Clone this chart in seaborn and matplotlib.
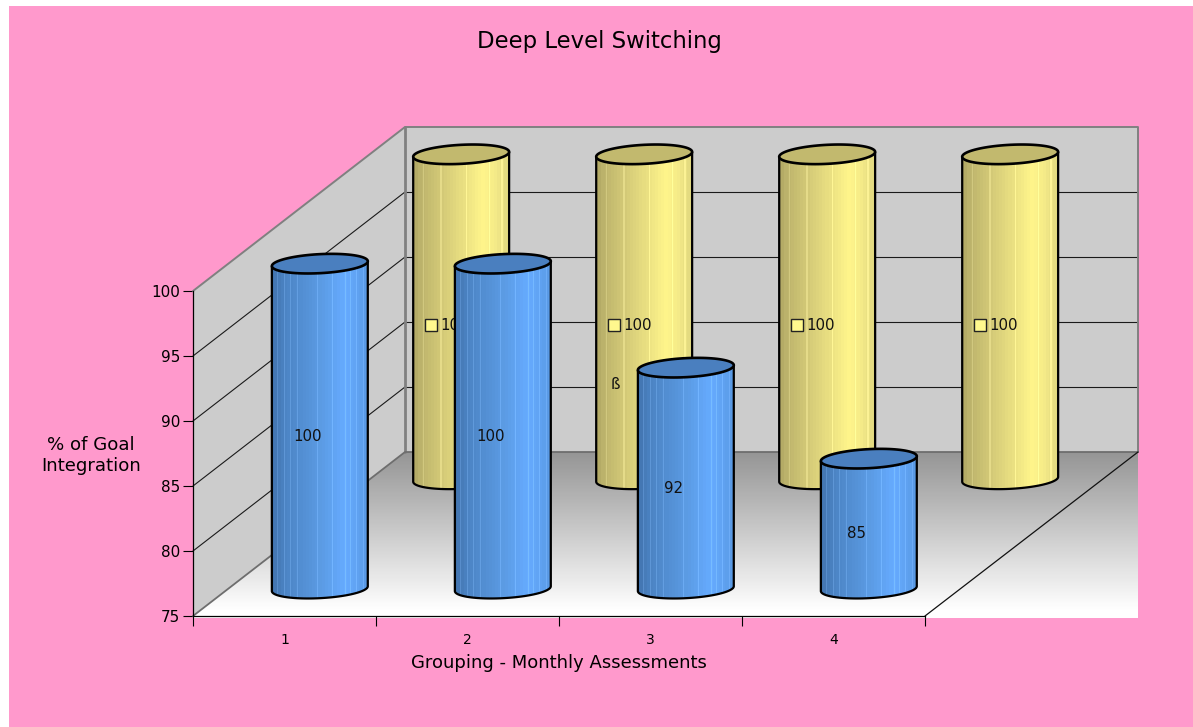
import numpy as np
import pandas as pd
import seaborn as sns
import matplotlib
matplotlib.use("Agg")
import matplotlib.pyplot as plt
from matplotlib.patches import Polygon, PathPatch, Rectangle
from matplotlib.path import Path
from matplotlib.transforms import Affine2D, IdentityTransform

# Chart values
months = ["1", "2", "3", "4"]
assessed = [100, 100, 92, 85]
goal = [100, 100, 100, 100]
y_ticks = [75, 80, 85, 90, 95, 100]

W, H = 1193, 727
PLANE_LEFT, PLANE_RIGHT, PLANE_BOTTOM, PLANE_TOP = 193, 925, 616, 291
DEPTH_X, DEPTH_Y = 212, 164
BAR_WIDTH = 0.525
CAP_B = 9.5
TILT = np.deg2rad(3)

BLUE_STOPS = ([0, .15, .5, .75, .9, 1],
              ["#3F6FA8", "#4C84C4", "#5B9BE3", "#66ABFF", "#5EA0EE", "#5490D6"])
BLUE_LIGHT = [.08, .14, .2, .28, .47, .62, .74, .8, .86, .92]
YELLOW_STOPS = ([0, .1, .4, .72, .85, 1],
                ["#A69D5E", "#BDB46C", "#DDD37C", "#FFF58B", "#F4EA88", "#DAD27C"])
YELLOW_LIGHT = [.12, .3, .55, .78, .9]

sns.set_theme(style="white")
plt.rcParams["font.family"] = "DejaVu Sans"
plt.rcParams["text.color"] = "black"
plt.rcParams["axes.labelcolor"] = "black"
plt.rcParams["xtick.color"] = "black"
plt.rcParams["ytick.color"] = "black"

fig = plt.figure(figsize=(W / 100, H / 100), dpi=100, facecolor="white")
fig.patches.append(Rectangle((9, 0), W - 9, H - 6, transform=IdentityTransform(),
                             facecolor="#FF99CC", edgecolor="none", figure=fig, zorder=-1))
ax = fig.add_axes([PLANE_LEFT / W, (H - PLANE_BOTTOM) / H,
                   (PLANE_RIGHT - PLANE_LEFT) / W, (PLANE_BOTTOM - PLANE_TOP) / H])
ax.patch.set_visible(False)

# Screen coordinates with y running downward, used for the box and cylinder shapes
px = Affine2D().scale(1, -1).translate(0, H)


def px_image(rgb, x0, x1, y0, y1, zorder, clip=None):
    im = ax.imshow(rgb, extent=(x0, x1, H - y1, H - y0), origin="upper", aspect="auto",
                   interpolation="nearest", transform=IdentityTransform(), zorder=zorder)
    im.set_clip_box(fig.bbox)
    if clip is not None:
        im.set_clip_path(clip)
    return im


def bands(stops, light, n=32):
    pos, cols = stops
    rgb = np.array([matplotlib.colors.to_rgb(c) for c in cols])
    centres = (np.arange(n * 3) + .5) / (n * 3)
    stepped = np.floor(centres * n + .5) / n
    row = np.stack([np.interp(stepped, pos, rgb[:, i]) for i in range(3)], axis=1)
    for f in light:
        row[int(f * n * 3)] = np.minimum(row[int(f * n * 3)] + .07, 1)
    return row[np.newaxis, :, :]


def ellipse_arc(cx, cy, a, t0, t1, n=60):
    t = np.linspace(t0, t1, n)
    x = cx + a * np.cos(t) * np.cos(TILT) + CAP_B * np.sin(t) * np.sin(TILT)
    y = cy - a * np.cos(t) * np.sin(TILT) + CAP_B * np.sin(t) * np.cos(TILT)
    return np.column_stack([x, y])


def draw_cylinder(bar, depth, stops, light, cap_color, zorder):
    dx, dy = DEPTH_X * depth, -DEPTH_Y * depth
    value = bar.get_height()
    bar.set_y(y_ticks[0])
    bar.set_height(value - y_ticks[0])
    bar.set_transform(ax.transData + Affine2D().translate(dx, -dy))
    bar.set_clip_on(False)
    bar.set_linewidth(0)
    bar.set_zorder(zorder)

    left, low = ax.transData.transform((bar.get_x(), y_ticks[0]))
    right, high = ax.transData.transform((bar.get_x() + bar.get_width(), value))
    cx = (left + right) / 2 + dx
    a = (right - left) / 2
    base_y = H - low + dy
    top_y = H - high + dy

    base = ellipse_arc(cx, base_y, a, np.pi, 0)
    top = ellipse_arc(cx, top_y, a, 0, np.pi)
    outline = np.vstack([top[-1:], base, top])
    body = PathPatch(Path(outline), transform=px, facecolor="none", edgecolor="none")
    ax.add_patch(body)
    body.set_clip_on(False)
    px_image(bands(stops, light), cx - a - 2, cx + a + 2, top_y - CAP_B - 4, base_y + CAP_B + 4,
             zorder + .1, clip=body)

    rim = np.vstack([top[-1:], base, top[:1]])
    ax.add_patch(PathPatch(Path(rim), transform=px, facecolor="none", edgecolor="black",
                           linewidth=1.6, zorder=zorder + .2, clip_on=False,
                           joinstyle="round"))
    cap = np.vstack([ellipse_arc(cx, top_y, a, 0, 2 * np.pi, 90)])
    ax.add_patch(Polygon(cap, closed=True, transform=px, facecolor=cap_color, edgecolor="black",
                         linewidth=1.9, zorder=zorder + .3, clip_on=False))
    return cx, (top_y + base_y) / 2


# Bars through seaborn: they set the categorical scale and carry the values
sns.barplot(data=pd.DataFrame({"month": months, "value": goal}), x="month", y="value",
            width=BAR_WIDTH, color="#DDD37C", saturation=1, ax=ax)
n_goal = len(ax.patches)
sns.barplot(data=pd.DataFrame({"month": months, "value": assessed}), x="month", y="value",
            width=BAR_WIDTH, color="#5B9BE3", saturation=1, ax=ax)
goal_bars = list(ax.patches[:n_goal])
assessed_bars = list(ax.patches[n_goal:])

ax.set_xlim(-.5, len(months) - .5)
ax.set_ylim(y_ticks[0], y_ticks[-1])
ax.set_autoscale_on(False)

# Box: floor with its grey fade, side wall, back wall and gridlines
back_l, back_r = PLANE_LEFT + DEPTH_X, PLANE_RIGHT + DEPTH_X + 1
back_b, back_t = PLANE_BOTTOM - DEPTH_Y, PLANE_TOP - DEPTH_Y
fade = np.linspace(.585, 1.0, 160)[:, np.newaxis]
fade = np.minimum(fade + np.linspace(0, .02, 160)[:, np.newaxis], 1)
px_image(np.repeat(fade[:, :, np.newaxis], 3, axis=2), PLANE_LEFT, back_r, back_b, PLANE_BOTTOM + 2, .5)

ax.add_patch(Polygon([(back_l, back_t), (back_r, back_t), (back_r, back_b), (back_l, back_b)],
                     transform=px, facecolor="#CCCCCC", edgecolor="none", zorder=1, clip_on=False))
ax.add_patch(Polygon([(PLANE_LEFT, PLANE_TOP), (back_l, back_t), (back_l, back_b), (PLANE_LEFT, PLANE_BOTTOM)],
                     transform=px, facecolor="#CCCCCC", edgecolor="none", zorder=1, clip_on=False))


def y_px(v):
    return PLANE_BOTTOM - (v - y_ticks[0]) * (PLANE_BOTTOM - PLANE_TOP) / (y_ticks[-1] - y_ticks[0])


for v in y_ticks[1:-1]:
    y = y_px(v)
    grid = dict(transform=px, color="#1A1A1A", lw=.8, zorder=1.2, clip_on=False)
    ax.plot([PLANE_LEFT, back_l], [y, y - DEPTH_Y], **grid)
    ax.plot([back_l, back_r], [y - DEPTH_Y, y - DEPTH_Y], **grid)
edge = dict(transform=px, color="#808080", zorder=1.4, clip_on=False, solid_capstyle="round")
ax.plot([PLANE_LEFT, back_l, back_r, back_r], [PLANE_TOP, back_t, back_t, back_b], lw=1.4, **edge)
ax.plot([back_l, back_l], [back_t, back_b], lw=2, **edge)
ax.plot([PLANE_LEFT, back_l, back_r], [PLANE_BOTTOM, back_b, back_b], lw=1.3,
        transform=px, color="#6E6E6E", zorder=1.4, clip_on=False)
ax.plot([PLANE_RIGHT, back_r], [PLANE_BOTTOM, back_b], transform=px, color="#111111", lw=.9,
        zorder=1.4, clip_on=False)

# Back row
label_style = dict(transform=px, fontsize=10.8, color="#111111", va="center", clip_on=False)
for i, bar in enumerate(goal_bars):
    cx, mid = draw_cylinder(bar, 5 / 6, YELLOW_STOPS, YELLOW_LIGHT, "#C2B96E", 3 + i * .01)
    ax.add_patch(Rectangle((cx - 36.5, mid + 2.5), 12.5, 12, transform=px, facecolor="#FFF88E",
                           edgecolor="#222222", linewidth=1, zorder=3.6, clip_on=False))
    ax.text(cx - 20.5, mid + 8.5, str(goal[i]), zorder=3.6, **label_style)
    if i == 1:
        ax.text(cx - 29, mid + 68, "ß", zorder=3.6, ha="center", **label_style)

# Front row
for i, bar in enumerate(assessed_bars):
    cx, mid = draw_cylinder(bar, 1 / 6, BLUE_STOPS, BLUE_LIGHT, "#4A7FBF", 4 + i * .01)
    ax.text(cx - 12, mid + 10, str(assessed[i]), zorder=4.9, ha="center", **label_style)

# Axes furniture
sns.despine(ax=ax, top=True, right=True)
for side in ("left", "bottom"):
    ax.spines[side].set_color("black")
    ax.spines[side].set_linewidth(.9)
    ax.spines[side].set_zorder(2)
ax.set_yticks(y_ticks)
ax.set_xticks(np.arange(len(months) + 1) - .5, labels=[""] * (len(months) + 1))
ax.set_xticks(np.arange(len(months)), labels=months, minor=True)
ax.tick_params(axis="y", which="major", left=True, length=7.2, width=.8, pad=2, labelsize=11)
ax.tick_params(axis="x", which="major", bottom=True, length=7.5, width=.8)
ax.tick_params(axis="x", which="minor", bottom=False, length=0, pad=12.5, labelsize=10)

ax.set_xlabel("Grouping - Monthly Assessments", fontsize=13)
ax.xaxis.set_label_coords(.5, -.118)
ax.set_ylabel("% of Goal\nIntegration", fontsize=13.1, rotation=0, ha="center", va="center",
              linespacing=1.25)
ax.yaxis.set_label_coords((91 - PLANE_LEFT) / (PLANE_RIGHT - PLANE_LEFT),
                          (PLANE_BOTTOM - 455.5) / (PLANE_BOTTOM - PLANE_TOP))
ax.set_title("Deep Level Switching", fontsize=16.4, color="black",
             x=(599 - PLANE_LEFT) / (PLANE_RIGHT - PLANE_LEFT),
             y=(PLANE_BOTTOM - 48) / (PLANE_BOTTOM - PLANE_TOP), pad=0)

fig.savefig("out.png", dpi=100)
